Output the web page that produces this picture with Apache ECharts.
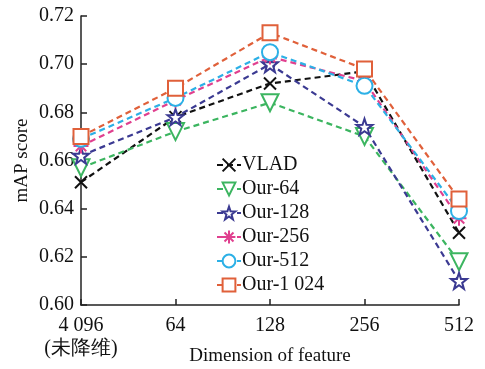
<!DOCTYPE html>
<html>
<head>
<meta charset="utf-8">
<script src="https://cdn.jsdelivr.net/npm/echarts@6/dist/echarts.min.js"></script>
<style>
  html, body { margin: 0; padding: 0; background: #fff; }
  #main { width: 485px; height: 369px; }
</style>
</head>
<body>
<div id="main"></div>
<script>
// 数据
var categories = ['4 096\n(未降维)', '64', '128', '256', '512']
var yTicks = [0.60, 0.62, 0.64, 0.66, 0.68, 0.70, 0.72]

var vlad = [0.651, 0.678, 0.692, 0.697, 0.630]
var our64 = [0.657, 0.672, 0.684, 0.670, 0.618]
var our128 = [0.662, 0.678, 0.700, 0.674, 0.610]
var our256 = [0.666, 0.685, 0.703, 0.693, 0.636]
var our512 = [0.669, 0.686, 0.705, 0.691, 0.639]
var our1024 = [0.670, 0.690, 0.713, 0.698, 0.644]

var CROSS = 'path://M0,0L10,10M10,0L0,10'
var STAR = 'path://M10,0L12.35,6.76L19.51,6.91L13.8,11.24L15.88,18.09L10,14L4.12,18.09L6.2,11.24L0.49,6.91L7.65,6.76Z'
var ASTER = 'path://M5,0L5,10M0,5L10,5M1.5,1.5L8.5,8.5M8.5,1.5L1.5,8.5'

var font = 'Liberation Serif'

function makeSeries(name, data, color, symbol, size, rotate) {
  return {
    name: name,
    type: 'line',
    data: data,
    symbol: symbol,
    symbolSize: size,
    symbolRotate: rotate || 0,
    lineStyle: { color: color, width: 2.2, type: [6, 4] },
    itemStyle: { color: '#fff', borderColor: color, borderWidth: 2 },
    z: 2
  }
}

var chart = echarts.init(document.getElementById('main'))
chart.setOption({
  animation: false,
  backgroundColor: '#fff',
  grid: { left: 81, right: 26, top: 16, bottom: 64, containLabel: false, outerBoundsMode: 'none' },
  legend: {
    orient: 'vertical',
    left: 211,
    top: 150,
    itemWidth: 24,
    itemHeight: 16,
    itemGap: 4,
    textStyle: { fontFamily: font, fontSize: 20, color: '#111', padding: [0, 0, 0, -4] },
    data: ['VLAD', 'Our-64', 'Our-128', 'Our-256', 'Our-512', 'Our-1 024']
  },
  xAxis: {
    type: 'category',
    data: categories,
    boundaryGap: false,
    name: 'Dimension of feature',
    nameLocation: 'middle',
    nameGap: 42,
    nameMoveOverlap: false,
    nameTextStyle: { fontFamily: font, fontSize: 19, color: '#111' },
    axisLine: { lineStyle: { color: '#222', width: 1.5 } },
    axisTick: { inside: true, length: 6, alignWithLabel: true, lineStyle: { color: '#222', width: 1.5 } },
    axisLabel: { interval: 0, hideOverlap: false, fontFamily: font, fontSize: 20, color: '#111', margin: 9, lineHeight: 23 },
    splitLine: { show: false }
  },
  yAxis: {
    type: 'value',
    min: yTicks[0],
    max: yTicks[yTicks.length - 1],
    interval: 0.02,
    name: 'mAP score',
    nameLocation: 'middle',
    nameGap: 49,
    nameMoveOverlap: false,
    nameTextStyle: { fontFamily: font, fontSize: 19, color: '#111' },
    axisLine: { show: true, lineStyle: { color: '#222', width: 1.5 } },
    axisTick: { show: true, inside: true, length: 6, lineStyle: { color: '#222', width: 1.5 } },
    axisLabel: {
      fontFamily: font, fontSize: 20, color: '#111', margin: 7,
      formatter: function (v) { return v.toFixed(2) }
    },
    splitLine: { show: false }
  },
  series: [
    makeSeries('VLAD', vlad, '#111111', CROSS, 12),
    makeSeries('Our-64', our64, '#3cb560', 'triangle', 17, 180),
    makeSeries('Our-128', our128, '#3b3a92', STAR, 16),
    makeSeries('Our-256', our256, '#e0408f', ASTER, 15),
    makeSeries('Our-512', our512, '#2cb0e6', 'circle', 16),
    makeSeries('Our-1 024', our1024, '#e0603a', 'rect', 15)
  ]
})
</script>
</body>
</html>
